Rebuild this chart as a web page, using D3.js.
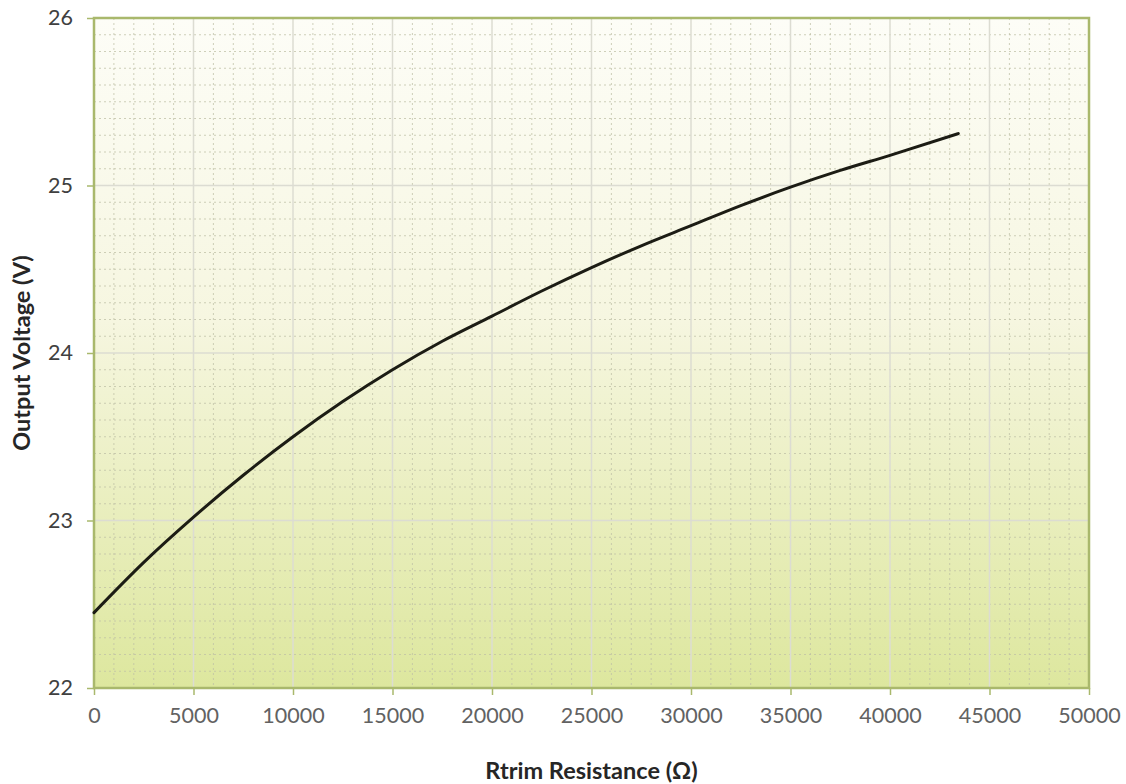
<!DOCTYPE html>
<html>
<head>
<meta charset="utf-8">
<script src="https://cdn.jsdelivr.net/npm/d3@7"></script>
<style>
  html, body { margin: 0; padding: 0; background: #ffffff; }
  svg { display: block; }
</style>
</head>
<body>
<svg id="chart" width="1126" height="784"></svg>
<script>
// ---- data ----
const resistance = [0, 2500, 5000, 7500, 10000, 12500, 15000, 17500, 20000, 22500, 25000,
                    27500, 30000, 32500, 35000, 37500, 40000, 43430];
const voltage = [22.45, 22.75, 23.02, 23.27, 23.50, 23.71, 23.90, 24.07, 24.22, 24.37, 24.51,
                 24.64, 24.76, 24.88, 24.99, 25.09, 25.18, 25.31];
const xTicks = [0, 5000, 10000, 15000, 20000, 25000, 30000, 35000, 40000, 45000, 50000];
const yTicks = [22, 23, 24, 25, 26];
const xTitle = "Rtrim Resistance (\u03A9)";
const yTitle = "Output Voltage (V)";

(function () {
const svg = d3.select("#chart");
const pL = 94, pR = 1089, pT = 18, pB = 688;

const x = d3.scaleLinear().domain([0, 50000]).range([pL, pR]);
const y = d3.scaleLinear().domain([22, 26]).range([pB, pT]);

// gradient background
const defs = svg.append("defs");
const grad = defs.append("linearGradient").attr("id", "bg").attr("x1", 0).attr("y1", 0).attr("x2", 0).attr("y2", 1);
grad.append("stop").attr("offset", "0%").attr("stop-color", "#fdfdf7");
grad.append("stop").attr("offset", "45%").attr("stop-color", "#f6f6e0");
grad.append("stop").attr("offset", "100%").attr("stop-color", "#dde79e");

svg.append("rect").attr("x", pL).attr("y", pT).attr("width", pR - pL).attr("height", pB - pT)
  .attr("fill", "url(#bg)");

// minor grid
const grid = svg.append("g");
const minorX = d3.range(1000, 50000, 1000).filter(v => v % 5000 !== 0);
const minorY = d3.range(22.1, 26, 0.1).filter(v => Math.abs(v - Math.round(v)) > 0.01);
grid.selectAll(".mx").data(minorX).join("line")
  .attr("x1", d => x(d)).attr("x2", d => x(d)).attr("y1", pT).attr("y2", pB)
  .attr("stroke", "#bfc0a6").attr("stroke-width", 1).attr("stroke-dasharray", "2,3").attr("opacity", 0.75);
grid.selectAll(".my").data(minorY).join("line")
  .attr("x1", pL).attr("x2", pR).attr("y1", d => y(d)).attr("y2", d => y(d))
  .attr("stroke", "#bfc0a6").attr("stroke-width", 1).attr("stroke-dasharray", "2,3").attr("opacity", 0.75);
// major grid
grid.selectAll(".Mx").data(xTicks.slice(1, -1)).join("line")
  .attr("x1", d => x(d)).attr("x2", d => x(d)).attr("y1", pT).attr("y2", pB)
  .attr("stroke", "#dcdcd2").attr("stroke-width", 1.5);
grid.selectAll(".My").data(yTicks.slice(1, -1)).join("line")
  .attr("x1", pL).attr("x2", pR).attr("y1", d => y(d)).attr("y2", d => y(d))
  .attr("stroke", "#dcdcd2").attr("stroke-width", 1.5);

// border
svg.append("rect").attr("x", pL).attr("y", pT).attr("width", pR - pL).attr("height", pB - pT)
  .attr("fill", "none").attr("stroke", "#a9b86c").attr("stroke-width", 2.5);

// axes
const xAxis = svg.append("g").attr("transform", `translate(0,${pB})`)
  .call(d3.axisBottom(x).tickValues(xTicks).tickFormat(d3.format("d")).tickSize(7).tickPadding(13));
const yAxis = svg.append("g").attr("transform", `translate(${pL},0)`)
  .call(d3.axisLeft(y).tickValues(yTicks).tickFormat(d3.format("d")).tickSize(7).tickPadding(14));
[xAxis, yAxis].forEach(a => {
  a.select(".domain").remove();
  a.selectAll(".tick line").attr("stroke", "#a9b86c").attr("stroke-width", 1.5);
  a.selectAll("text").attr("font-family", "Lato, sans-serif").attr("font-size", 21.5);
});
xAxis.selectAll("text").attr("fill", "#626262");
yAxis.selectAll("text").attr("fill", "#404040");

// curve
const line = d3.line().x((d, i) => x(resistance[i])).y(d => y(d)).curve(d3.curveMonotoneX);
svg.append("path").datum(voltage).attr("d", line)
  .attr("fill", "none").attr("stroke", "#1c1c14").attr("stroke-width", 3).attr("stroke-linecap", "round");

// titles
svg.append("text").attr("x", (pL + pR) / 2).attr("y", 779).attr("text-anchor", "middle")
  .attr("font-family", "Lato, sans-serif").attr("font-weight", "bold").attr("font-size", 23.5)
  .attr("fill", "#262626").text(xTitle);
svg.append("text").attr("transform", `translate(30,${(pT + pB) / 2}) rotate(-90)`)
  .attr("text-anchor", "middle")
  .attr("font-family", "Lato, sans-serif").attr("font-weight", "bold").attr("font-size", 23.5)
  .attr("fill", "#262626").text(yTitle);
})();
</script>
</body>
</html>
